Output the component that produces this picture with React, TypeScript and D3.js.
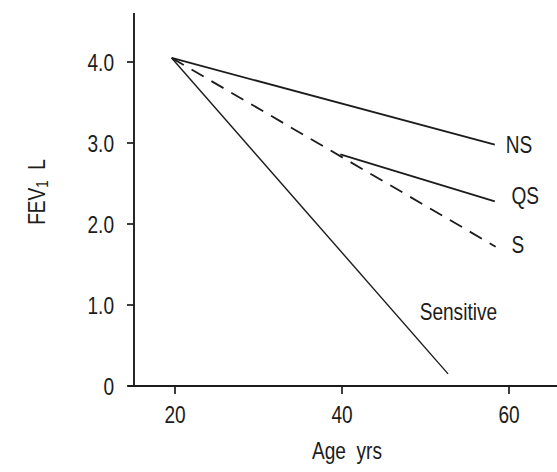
import React from 'react'
import * as d3 from 'd3'

// tick values
const xTicks = [20, 40, 60]
const yTicks = [0, 1, 2, 3, 4]

// each line: age / FEV1 points
const nsLine = [{ age: 19.6, fev: 4.05 }, { age: 58.3, fev: 2.98 }]
const qsLine = [{ age: 39.8, fev: 2.86 }, { age: 58.3, fev: 2.28 }]
const sLine = [{ age: 19.6, fev: 4.05 }, { age: 58.4, fev: 1.72 }]
const sensitiveLine = [{ age: 19.6, fev: 4.05 }, { age: 52.7, fev: 0.15 }]

// label anchors (left edge / baseline) in data units
const labels = [
  { text: 'NS', age: 59.6, fev: 2.88 },
  { text: 'QS', age: 60.3, fev: 2.25 },
  { text: 'S', age: 60.3, fev: 1.64 },
  { text: 'Sensitive', age: 49.3, fev: 0.81 },
]

const FS = 23
const SQUEEZE = 0.83

// condensed text, like the narrow Helvetica in the scan
function Txt({ x, y, anchor = 'start', rotate = 0, children }:
  { x: number; y: number; anchor?: string; rotate?: number; children: React.ReactNode }) {
  return (
    <text transform={`translate(${x},${y}) rotate(${rotate}) scale(${SQUEEZE},1)`}
      textAnchor={anchor} fontSize={FS}>
      {children}
    </text>
  )
}

export default function App() {
  const W = 557
  const H = 472
  const x = d3.scaleLinear().domain([20, 60]).range([175, 509])
  const y = d3.scaleLinear().domain([0, 4]).range([386, 62])
  const line = d3.line<{ age: number; fev: number }>()
    .x(d => x(d.age))
    .y(d => y(d.fev))

  const ink = '#1c1c1c'
  const font = 'Liberation Sans, Arial, Helvetica, sans-serif'
  const axisX = 134

  return (
    <svg width={W} height={H} style={{ position: 'absolute', left: 0, top: 0, background: '#fff' }}
      fontFamily={font} fill={ink}>
      {/* axes */}
      <line x1={axisX} x2={axisX} y1={13} y2={y(0)} stroke={ink} strokeWidth={1.9} />
      <line x1={128} x2={W} y1={y(0)} y2={y(0)} stroke={ink} strokeWidth={1.9} />
      {yTicks.map(t =>
        <g key={t}>
          <line x1={axisX - 7} x2={axisX} y1={y(t)} y2={y(t)} stroke={ink} strokeWidth={1.7} />
          <Txt x={114} y={y(t) + 8.5} anchor="end">{t === 0 ? '0' : t.toFixed(1)}</Txt>
        </g>
      )}
      {xTicks.map(t =>
        <g key={t}>
          <line x1={x(t)} x2={x(t)} y1={y(0)} y2={y(0) + 8} stroke={ink} strokeWidth={1.7} />
          <Txt x={x(t)} y={423} anchor="middle">{t}</Txt>
        </g>
      )}
      <Txt x={347} y={459} anchor="middle">{'Age\u00a0\u00a0yrs'}</Txt>
      <Txt x={45} y={192} anchor="middle" rotate={-90}>
        FEV<tspan fontSize={16} dy="3">1</tspan><tspan dy="-3">{'\u00a0\u00a0L'}</tspan>
      </Txt>

      {/* lines */}
      <g fill="none" stroke={ink}>
        <path d={line(nsLine) ?? ''} strokeWidth={1.8} />
        <path d={line(qsLine) ?? ''} strokeWidth={1.8} />
        <path d={line(sLine) ?? ''} strokeWidth={1.8} strokeDasharray="14,9" />
        <path d={line(sensitiveLine) ?? ''} strokeWidth={1.4} />
      </g>
      {labels.map(l =>
        <Txt key={l.text} x={x(l.age)} y={y(l.fev)}>{l.text}</Txt>
      )}
    </svg>
  )
}
